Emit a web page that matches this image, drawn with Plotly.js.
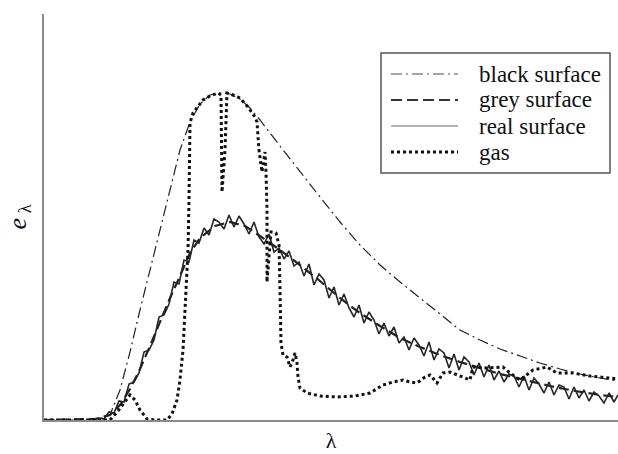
<!DOCTYPE html>
<html>
<head>
<meta charset="utf-8">
<script src="https://cdn.plot.ly/plotly-3.0.1.min.js"></script>
<style>html,body{margin:0;padding:0;background:#fff}#chart{width:618px;height:454px}</style>
</head>
<body>
<div id="chart"></div>
<script>
// Wavelength (arbitrary units) and spectral emissive power (arbitrary units)
var blackX = [0,0.46,0.56,0.66,0.76,0.86,0.96,1.06,1.16,1.26,1.36,1.46,1.56,1.66,1.76,1.86,1.96,2.06,2.16,2.36,2.56,2.76,2.96,3.16,3.36,3.56,3.76,3.96,4.16,4.36,4.56,4.76,4.96,5.16,5.36,5.56,5.74];
var blackY = [0,0,0.01,0.05,0.30,0.68,1.10,1.50,1.92,2.32,2.70,2.98,3.16,3.25,3.27,3.26,3.21,3.12,3.00,2.74,2.48,2.23,1.98,1.75,1.55,1.38,1.22,1.06,0.90,0.80,0.71,0.64,0.57,0.51,0.46,0.42,0.39];

var greyX = [0,0.51,0.66,0.76,0.86,0.96,1.06,1.16,1.26,1.36,1.46,1.56,1.71,1.86,2.01,2.16,2.36,2.56,2.76,2.96,3.16,3.36,3.56,3.76,3.96,4.16,4.36,4.56,4.81,5.06,5.31,5.56,5.74];
var greyY = [0,0.01,0.05,0.15,0.31,0.51,0.74,0.98,1.22,1.44,1.67,1.82,1.94,1.98,1.94,1.84,1.70,1.55,1.39,1.22,1.07,0.94,0.82,0.73,0.65,0.58,0.52,0.46,0.40,0.34,0.29,0.25,0.23];

var realX = [0.50,0.55,0.60,0.65,0.70,0.75,0.80,0.85,0.90,0.95,1.00,1.05,1.10,1.15,1.20,1.25,1.30,1.35,1.40,1.45,1.50,1.55,1.60,1.65,1.70,1.75,1.80,1.85,1.90,1.95,2.00,2.05,2.10,2.15,2.20,2.25,2.30,2.35,2.40,2.45,2.50,2.55,2.60,2.65,2.70,2.75,2.80,2.85,2.90,2.95,3.00,3.05,3.10,3.15,3.20,3.25,3.30,3.35,3.40,3.45,3.50,3.55,3.60,3.65,3.70,3.75,3.80,3.85,3.90,3.95,4.00,4.05,4.10,4.15,4.20,4.25,4.30,4.35,4.40,4.45,4.50,4.55,4.60,4.65,4.70,4.75,4.80,4.85,4.90,4.95,5.00,5.05,5.10,5.15,5.20,5.25,5.30,5.35,5.40,5.45,5.50,5.55,5.60,5.65,5.70,5.74];
var realY = [0.00,0.02,0.01,0.08,0.07,0.19,0.18,0.36,0.38,0.47,0.68,0.70,0.80,1.03,1.05,1.16,1.38,1.36,1.60,1.58,1.80,1.77,1.92,1.85,2.01,1.98,1.91,2.05,1.93,2.04,1.96,1.86,1.98,1.83,1.76,1.86,1.68,1.72,1.61,1.69,1.54,1.58,1.44,1.56,1.35,1.46,1.40,1.22,1.33,1.15,1.26,1.12,1.03,1.15,0.97,1.08,1.00,0.86,0.97,0.84,0.93,0.77,0.83,0.70,0.82,0.75,0.64,0.78,0.60,0.71,0.67,0.52,0.66,0.50,0.63,0.58,0.45,0.57,0.43,0.55,0.40,0.49,0.38,0.46,0.44,0.33,0.44,0.30,0.42,0.36,0.27,0.38,0.25,0.35,0.33,0.21,0.33,0.22,0.30,0.19,0.28,0.24,0.17,0.27,0.18,0.25];

var gasX = [0,0.66,0.74,0.81,0.86,0.91,0.96,1.03,1.11,1.23,1.28,1.33,1.36,1.39,1.41,1.43,1.44,1.45,1.46,1.46,1.49,1.54,1.59,1.66,1.74,1.77,1.78,1.81,1.83,1.89,1.96,2.04,2.11,2.13,2.15,2.18,2.21,2.22,2.23,2.23,2.27,2.32,2.35,2.36,2.37,2.39,2.43,2.46,2.49,2.51,2.53,2.54,2.56,2.63,2.76,2.93,3.11,3.26,3.39,3.49,3.59,3.66,3.73,3.81,3.86,3.93,3.99,4.06,4.16,4.26,4.29,4.43,4.59,4.66,4.76,4.89,5.03,5.13,5.29,5.46,5.56,5.74];
var gasY = [0,0,0.09,0.19,0.25,0.20,0.10,0.01,0,0,0.06,0.20,0.40,0.70,1.10,1.40,1.70,2.20,2.70,2.97,3.07,3.14,3.20,3.24,3.27,3.25,2.28,2.70,3.27,3.25,3.22,3.13,3.03,2.98,2.70,2.48,2.68,2.48,2.10,1.38,1.88,1.87,1.75,1.30,0.77,0.65,0.63,0.53,0.60,0.67,0.57,0.43,0.32,0.27,0.24,0.23,0.24,0.27,0.35,0.38,0.40,0.38,0.37,0.43,0.45,0.37,0.47,0.48,0.44,0.40,0.53,0.52,0.53,0.47,0.40,0.50,0.53,0.47,0.47,0.44,0.43,0.41];

var legendLabels = ['black surface', 'grey surface', 'real surface', 'gas'];
var xTitle = 'λ';
var yTitle = '<i>e</i><sub> λ</sub>';

var SERIF = 'Liberation Serif';

var styles = [
  {color: '#222', width: 1.2, dash: '11px,4px,2px,4px'},
  {color: '#222', width: 2.2, dash: '10px,5px'},
  {color: '#262626', width: 1.6, dash: 'solid'},
  {color: '#111', width: 3, dash: '3px,3px'}
];
var legendStyles = [
  {color: '#888', width: 1.3, dash: '11px,4px,2px,4px'},
  {color: '#333', width: 2.2, dash: '11px,5px'},
  {color: '#999', width: 1.3, dash: 'solid'},
  {color: '#111', width: 3, dash: '3px,3px'}
];

var series = [[blackX, blackY], [greyX, greyY], [realX, realY], [gasX, gasY]];
var traces = series.map(function (s, i) {
  return {x: s[0], y: s[1], type: 'scatter', mode: 'lines', name: legendLabels[i],
          line: styles[i], showlegend: false, hoverinfo: 'skip', cliponaxis: true};
});

// plot area pixel helpers (for the hand-made legend box)
var L = 44, R = 618, T = 14, B = 420;
function px(p) { return (p - L) / (R - L); }
function py(p) { return (B - p) / (B - T); }

var shapes = [{type: 'rect', xref: 'paper', yref: 'paper', x0: px(381), x1: px(610), y0: py(53), y1: py(173),
               line: {color: '#555', width: 1.5}, fillcolor: 'rgba(0,0,0,0)'}];
var annotations = [];
var rows = [74, 100, 126, 152];
legendLabels.forEach(function (lab, i) {
  shapes.push({type: 'line', xref: 'paper', yref: 'paper', x0: px(391), x1: px(458), y0: py(rows[i]), y1: py(rows[i]),
               line: legendStyles[i]});
  annotations.push({xref: 'paper', yref: 'paper', x: px(477), y: py(rows[i]), xanchor: 'left', yanchor: 'middle',
                    text: lab, showarrow: false, font: {family: SERIF, size: 23, color: '#111'}});
});

var layout = {
  width: 618, height: 454,
  margin: {l: L, r: 0, t: T, b: 454 - B},
  paper_bgcolor: '#fff', plot_bgcolor: '#fff',
  showlegend: false,
  xaxis: {range: [0, 5.74], showline: true, linecolor: '#8a8a8a', linewidth: 2, showgrid: false, zeroline: false,
          showticklabels: false, ticks: '', automargin: false,
          title: {text: xTitle, standoff: 12, font: {family: SERIF, size: 22, color: '#111'}}},
  yaxis: {range: [0, 4.06], showline: true, linecolor: '#8a8a8a', linewidth: 2, showgrid: false, zeroline: false,
          showticklabels: false, ticks: '', automargin: false,
          title: {text: yTitle, standoff: 8, font: {family: SERIF, size: 26, color: '#111'}}},
  shapes: shapes,
  annotations: annotations
};

Plotly.newPlot('chart', traces, layout, {displayModeBar: false, staticPlot: true});
</script>
</body>
</html>
